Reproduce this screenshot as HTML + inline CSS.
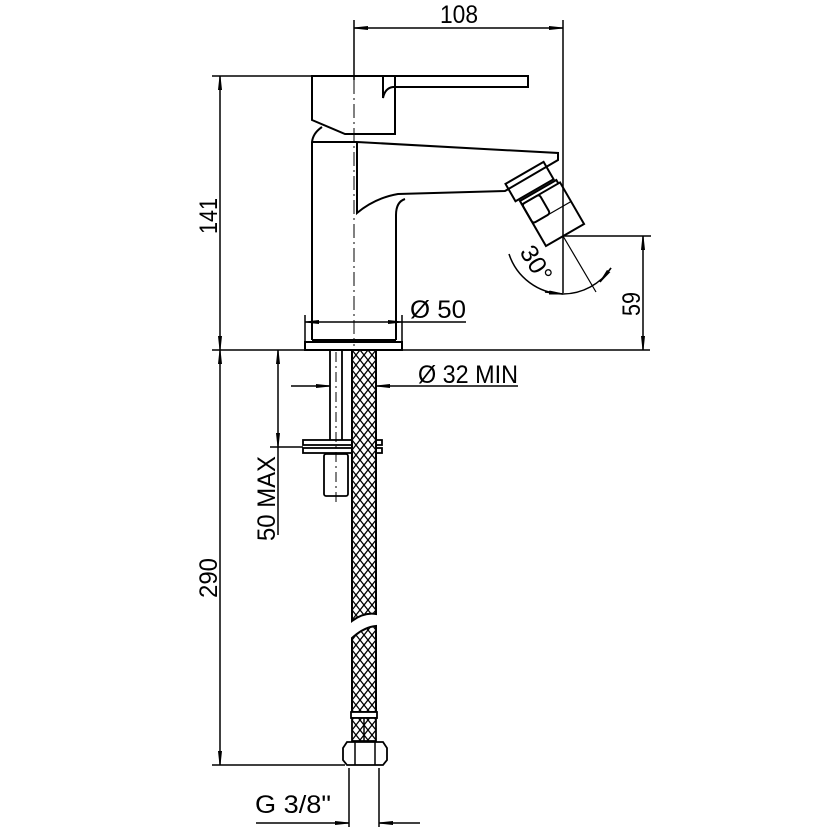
<!DOCTYPE html>
<html><head><meta charset="utf-8"><style>html,body{margin:0;padding:0;background:#fff}svg{display:block}text{font-family:"Liberation Sans",sans-serif;font-size:25px;fill:#000}</style></head><body>
<svg width="836" height="836" viewBox="0 0 836 836" xmlns="http://www.w3.org/2000/svg">
<defs>
<pattern id="mesh" width="8" height="10" patternUnits="userSpaceOnUse" x="352" y="350">
<rect width="8" height="10" fill="#fff"/>
<path d="M0 0L8 10M8 0L0 10" stroke="#000" stroke-width="1.3"/>
</pattern>
<marker id="ar" viewBox="0 0 14 6" refX="14" refY="3" markerWidth="14" markerHeight="6" markerUnits="userSpaceOnUse" orient="auto-start-reverse"><path d="M0 1.5L14 3L0 4.5Z" fill="#000" stroke="#000" stroke-width="1"/></marker>
</defs>
<g fill="none" stroke="#000" stroke-width="1.5">
<line x1="354" y1="20" x2="354" y2="80"/>
<line x1="563" y1="20" x2="563" y2="293"/>
<line x1="354" y1="28" x2="563" y2="28" marker-start="url(#ar)" marker-end="url(#ar)"/>
<line x1="212" y1="76" x2="315" y2="76"/>
<line x1="220" y1="76" x2="220" y2="350" marker-start="url(#ar)" marker-end="url(#ar)"/>
<line x1="212" y1="350" x2="650" y2="350"/>
<path d="M312 76H395V134H345L312 120Z" stroke-width="2"/>
<path d="M383 76H528V87H393Q385 88 383 98Z" stroke-width="2"/>
<path d="M322 127Q313 133 312 142V340" stroke-width="2"/>
<line x1="312" y1="142" x2="357" y2="142" stroke-width="2"/>
<path d="M357 142L558 153V160L505 191L398 194Q375 198 357 213V142" stroke-width="2"/>
<path d="M396 340V215Q396 202 405 199" stroke-width="2"/>
<path d="M312 340H396" stroke-width="2"/>
<rect x="305" y="342" width="97" height="8" stroke-width="2"/>
<line x1="305" y1="315" x2="305" y2="342"/>
<line x1="402" y1="315" x2="402" y2="342"/>
<line x1="305" y1="322" x2="402" y2="322" marker-start="url(#ar)" marker-end="url(#ar)"/>
<line x1="402" y1="322" x2="466" y2="322"/>
<line x1="354" y1="80" x2="354" y2="346" stroke-width="1" stroke-dasharray="14 4 2 4"/>
<g transform="translate(565,235) rotate(-30)" stroke-width="2">
<rect x="-22" y="-48" width="44" height="48"/>
<rect x="-22" y="-48" width="20" height="22" rx="3"/>
<line x1="-22" y1="-26" x2="22" y2="-26" stroke-width="1.2"/>
<path d="M-22 -48V-52H20V-48"/>
<rect x="-26" y="-74" width="44" height="20"/>
</g>
<line x1="563" y1="236" x2="596" y2="292" stroke-width="1.2"/>
<path d="M509 254A58 58 0 0 0 563 294"/>
<path d="M563 294A58 58 0 0 0 611 268"/>
<line x1="545" y1="292" x2="563" y2="294" marker-end="url(#ar)"/>
<line x1="611" y1="268" x2="600" y2="282" marker-end="url(#ar)"/>
<line x1="563" y1="236" x2="651" y2="236"/>
<line x1="643" y1="236" x2="643" y2="350" marker-start="url(#ar)" marker-end="url(#ar)"/>
<line x1="220" y1="350" x2="220" y2="765" marker-start="url(#ar)" marker-end="url(#ar)"/>
<line x1="212" y1="765" x2="345" y2="765"/>
<line x1="278" y1="350" x2="278" y2="447" marker-start="url(#ar)" marker-end="url(#ar)"/>
<line x1="270" y1="447" x2="303" y2="447"/>
<line x1="278" y1="447" x2="278" y2="535"/>
<path d="M330 350V440M342 350V440" stroke-width="1.8"/>
<rect x="324" y="454" width="24" height="42" rx="2" stroke-width="1.8"/>
<line x1="336" y1="352" x2="336" y2="506" stroke-width="1" stroke-dasharray="10 4 2 4"/>
<rect x="303" y="440" width="79" height="5" stroke-width="1.8"/>
<rect x="303" y="448" width="79" height="5" stroke-width="1.8"/>
<path d="M352 350V621Q364 612 376 614V350Z" fill="url(#mesh)" stroke-width="2"/>
<path d="M352 712V638Q364 627 376 626V712Z" fill="url(#mesh)" stroke-width="2"/>
<rect x="351" y="712" width="26" height="6" fill="#fff" stroke-width="1.8"/>
<rect x="352" y="718" width="24" height="23" fill="url(#mesh)" stroke-width="1.8"/>
<line x1="364" y1="718" x2="364" y2="741"/>
<path d="M347 742H383L387 748V760L383 765H347L343 760V748Z" fill="#fff" stroke-width="1.8"/>
<line x1="355" y1="742" x2="355" y2="765"/><line x1="375" y1="742" x2="375" y2="765"/>
<line x1="291" y1="386" x2="330" y2="386" marker-end="url(#ar)"/>
<line x1="518" y1="386" x2="376" y2="386" marker-end="url(#ar)"/>
<line x1="349" y1="768" x2="349" y2="827"/>
<line x1="379" y1="768" x2="379" y2="827"/>
<line x1="256" y1="823" x2="349" y2="823" marker-end="url(#ar)"/>
<line x1="420" y1="823" x2="379" y2="823" marker-end="url(#ar)"/>
</g>
<text x="440" y="23" textLength="38" lengthAdjust="spacingAndGlyphs">108</text>
<text transform="translate(217,234) rotate(-90)" textLength="36" lengthAdjust="spacingAndGlyphs">141</text>
<text x="410" y="318" textLength="56" lengthAdjust="spacingAndGlyphs">Ø 50</text>
<text transform="translate(640,316) rotate(-90)" textLength="24" lengthAdjust="spacingAndGlyphs">59</text>
<text transform="translate(519,252) rotate(58)" textLength="38" lengthAdjust="spacingAndGlyphs">30°</text>
<text x="418" y="383" textLength="100" lengthAdjust="spacingAndGlyphs">Ø 32 MIN</text>
<text transform="translate(217,598) rotate(-90)" textLength="40" lengthAdjust="spacingAndGlyphs">290</text>
<text transform="translate(275,541) rotate(-90)" textLength="85" lengthAdjust="spacingAndGlyphs">50 MAX</text>
<text x="255" y="813" textLength="76" lengthAdjust="spacingAndGlyphs">G 3/8"</text>
</svg>
</body></html>
